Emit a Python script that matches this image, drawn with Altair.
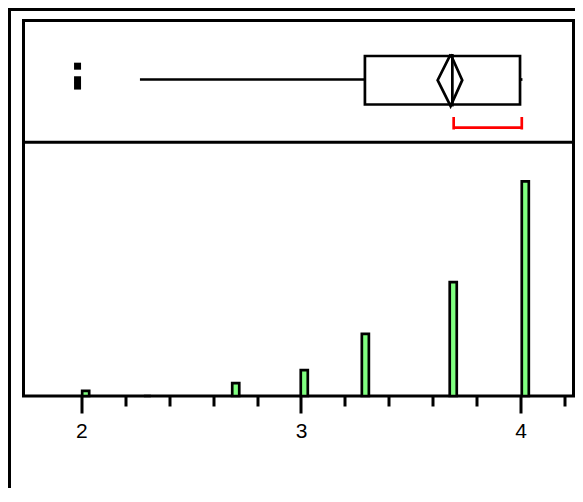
import altair as alt
import pandas as pd

# ---------------- data ----------------
# histogram (bin centre, count)
bin_labels = ["2.0", "2.3", "2.7", "3.0", "3.3", "3.7", "4.0"]
bin_centers = [2.020, 2.301, 2.703, 3.015, 3.293, 3.693, 4.021]
counts = [2, 0, 5, 10, 24, 44, 83]
bar_width = 0.032
count_max = 98.1

# outlier box plot summary
q1 = 3.291
median = 3.689
q3 = 3.997
lower_whisker = 2.267
upper_whisker = 4.008
mean = 3.681
mean_ci = [3.622, 3.734]
shortest_half = [3.695, 4.005]
outlier_values = [1.983, 1.983, 1.983]
outlier_jitter = [0.21, 0.49, 0.62]

# axis
major_ticks = [2, 3, 4]
minor_ticks = [2.2, 2.4, 2.6, 2.8, 3.2, 3.4, 3.6, 3.8, 4.2]
x_domain = [1.737, 4.2404]

# ---------------- layout constants ----------------
W, H = 550, 375.5
SPLIT = 121.8
FONT = "Liberation Sans"

x_scale = alt.Scale(domain=x_domain, nice=False, zero=False)


def X(field, axis=None):
    return alt.X(field, type="quantitative", scale=x_scale, axis=axis, title=None)


def X2(field):
    return alt.X2(field)


hist_df = pd.DataFrame({"bin": bin_labels, "center": bin_centers, "count": counts})
stats_df = pd.DataFrame([{
    "q1": q1, "median": median, "q3": q3, "lw": lower_whisker, "uw": upper_whisker,
    "sh_lo": shortest_half[0], "sh_hi": shortest_half[1],
}])
sh_ends_df = pd.DataFrame({"v": shortest_half})
diamond_df = pd.DataFrame({
    "i": [0, 1, 2, 3, 4],
    "x": [mean, mean_ci[0], mean, mean_ci[1], mean],
    "level": [0.0, 0.5, 1.0, 0.5, 0.0],
})
out_df = pd.DataFrame({"v": outlier_values, "j": outlier_jitter})

major_axis = alt.Axis(
    orient="bottom", values=major_ticks, format="d",
    domain=False, grid=False,
    ticks=True, tickColor="black", tickWidth=3, tickSize=17,
    labelFont=FONT, labelFontSize=21, labelColor="black",
    labelPadding=7, labelFlush=False, labelOverlap=False,
)
minor_axis = alt.Axis(
    orient="bottom", values=minor_ticks,
    domain=False, grid=False, labels=False,
    ticks=True, tickColor="black", tickWidth=3, tickSize=10,
)

bars = alt.Chart(hist_df).transform_calculate(
    lo=f"datum.center - {bar_width / 2}",
    hi=f"datum.center + {bar_width / 2}",
).mark_rect(fill="#80ff80", stroke="black", strokeWidth=2.7).encode(
    x=X("lo", axis=major_axis),
    x2=X2("hi"),
    y=alt.Y("count:Q", scale=alt.Scale(domain=[0, count_max], range=[H, SPLIT]), axis=None),
    y2=alt.datum(0),
)

base_stats = alt.Chart(stats_df)
whisker_lo = base_stats.mark_rule(color="black", strokeWidth=2.7).encode(
    x=X("lw", axis=minor_axis), x2=X2("q1"), y=alt.value(59))
whisker_hi = base_stats.mark_rule(color="black", strokeWidth=2.7).encode(
    x=X("q3"), x2=X2("uw"), y=alt.value(59))
box = base_stats.mark_rect(fill="transparent", stroke="black", strokeWidth=2.7).encode(
    x=X("q1"), x2=X2("q3"), y=alt.value(35.5), y2=alt.value(84))
med = base_stats.mark_rule(color="black", strokeWidth=2.7).encode(
    x=X("median"), y=alt.value(33.5), y2=alt.value(86))
sh_line = base_stats.mark_rule(color="red", strokeWidth=2.7).encode(
    x=X("sh_lo"), x2=X2("sh_hi"), y=alt.value(107.2))
sh_ends = alt.Chart(sh_ends_df).mark_rule(color="red", strokeWidth=2.7).encode(
    x=X("v"), y=alt.value(96.5), y2=alt.value(109))

diamond = alt.Chart(diamond_df).mark_line(color="black", strokeWidth=2.7).encode(
    x=X("x"),
    y=alt.Y("level:Q", scale=alt.Scale(domain=[0, 1], range=[33.8, 85.5]), axis=None),
    order=alt.Order("i:Q"),
)

outliers = alt.Chart(out_df).mark_square(size=49, color="black", opacity=1).encode(
    x=X("v"),
    y=alt.Y("j:Q", scale=alt.Scale(domain=[0, 1], range=[35.5, 84]), axis=None),
)

# panel divider and outer frame
divider = alt.Chart(stats_df).mark_rule(color="black", strokeWidth=3).encode(
    x=alt.value(0), x2=alt.value(W), y=alt.value(SPLIT))
outer_top = alt.Chart(stats_df).mark_rule(color="black", strokeWidth=3).encode(
    x=alt.value(-15.5), x2=alt.value(600), y=alt.value(-11))
outer_left = alt.Chart(stats_df).mark_rule(color="black", strokeWidth=3).encode(
    x=alt.value(-14), y=alt.value(-12.5), y2=alt.value(520))

chart = alt.layer(
    outer_top, outer_left, divider, bars,
    whisker_lo, whisker_hi, box, med, diamond, sh_line, sh_ends, outliers,
).resolve_scale(y="independent").resolve_axis(x="independent").properties(
    width=W, height=H,
    autosize=alt.AutoSizeParams(type="none"),
    padding={"left": 15.5, "top": 12.5, "right": 1.5, "bottom": 92},
    background="white",
).configure_view(
    stroke="black", strokeWidth=3
).configure_axis(
    labelFont=FONT, labelFontSize=21, labelColor="black", labelPadding=7
).configure_axisX(
    labelFont=FONT, labelFontSize=21, labelColor="black", labelPadding=7
).configure_axisBottom(
    labelFont=FONT, labelFontSize=21, labelColor="black", labelPadding=7
)

chart.save("out.html", embed_options={"renderer": "svg", "actions": False})
